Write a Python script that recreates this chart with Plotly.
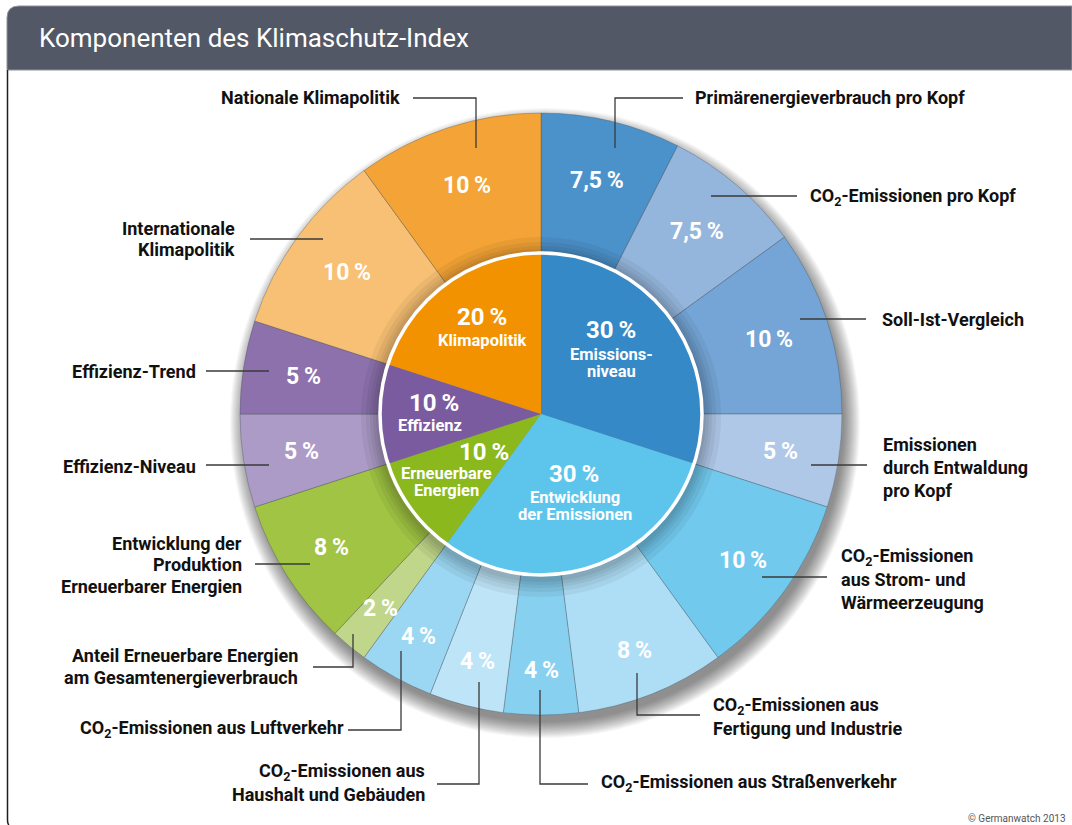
import math
import plotly.graph_objects as go

# ---------------- data ----------------
inner_labels = ["Emissionsniveau", "Entwicklung der Emissionen", "Erneuerbare Energien",
                "Effizienz", "Klimapolitik"]
inner_display = ["Emissions-\nniveau", "Entwicklung\nder Emissionen", "Erneuerbare\nEnergien",
                 "Effizienz", "Klimapolitik"]
inner_values = [30, 30, 10, 10, 20]
inner_colors = ["#3589c6", "#5dc5ec", "#8ab81d", "#7b5ba0", "#f29200"]

outer_labels = [
    "Primärenergieverbrauch pro Kopf",
    "CO<sub>2</sub>-Emissionen pro Kopf",
    "Soll-Ist-Vergleich",
    "Emissionen\ndurch Entwaldung\npro Kopf",
    "CO<sub>2</sub>-Emissionen\naus Strom- und\nWärmeerzeugung",
    "CO<sub>2</sub>-Emissionen aus\nFertigung und Industrie",
    "CO<sub>2</sub>-Emissionen aus Straßenverkehr",
    "CO<sub>2</sub>-Emissionen aus\nHaushalt und Gebäuden",
    "CO<sub>2</sub>-Emissionen aus Luftverkehr",
    "Anteil Erneuerbare Energien\nam Gesamtenergieverbrauch",
    "Entwicklung der\nProduktion\nErneuerbarer Energien",
    "Effizienz-Niveau",
    "Effizienz-Trend",
    "Internationale\nKlimapolitik",
    "Nationale Klimapolitik",
]
outer_values = [7.5, 7.5, 10, 5, 10, 8, 4, 4, 4, 2, 8, 5, 5, 10, 10]
outer_colors = ["#4c92ca", "#94b6dc", "#74a5d6", "#afc8e8", "#72c9ee", "#aedef5", "#88d0f0",
                "#bee4f7", "#9bd6f2", "#c0d68a", "#a1c444", "#ac9bc7", "#8c71ad", "#f8c074",
                "#f4a436"]

title = "Komponenten des Klimaschutz-Index"
credit = "© Germanwatch 2013"

# ---------------- layout constants (pixels) ----------------
W, H = 1072, 825
CX, CY = 541, 414
R_OUT, R_IN = 301, 161
FONT = "Roboto, 'Open Sans', sans-serif"

# callout geometry: side, text x, line y centres, leader polyline
callouts = [
    ("left", 693, [98], [(683, 98), (615, 98), (615, 148)]),
    ("left", 808, [197], [(711, 196), (797, 196)]),
    ("left", 880, [319], [(800, 319), (866, 319)]),
    ("left", 881, [444, 467, 490], [(811, 465), (867, 465)]),
    ("left", 839, [557, 579, 602], [(762, 577), (827, 577)]),
    ("left", 711, [706, 728], [(637, 673), (637, 715), (700, 715)]),
    ("left", 599, [783], [(540, 690), (540, 784), (588, 784)]),
    ("right", 427, [772, 794], [(479, 682), (479, 784), (437, 784)]),
    ("right", 346, [729], [(401, 651), (401, 730), (348, 730)]),
    ("right", 300, [655, 677], [(353, 634), (353, 667), (313, 667)]),
    ("right", 244, [543, 564, 586], [(255, 564), (310, 564)]),
    ("right", 198, [466], [(206, 465), (269, 465)]),
    ("right", 198, [371], [(206, 371), (269, 371)]),
    ("right", 237, [228, 250], [(250, 239), (323, 239)]),
    ("right", 402, [98], [(413, 98), (476, 98), (476, 148)]),
]
# inner labels: percent centre (x, y), name centre x, first name line y
inner_pos = [
    ((611, 330), 611, 354),
    ((574, 474), 575, 497),
    ((484, 452), 446, 473),
    ((434, 403), 430, 425),
    ((482, 317), 482, 340),
]
NAME_STEP = 17


def px(x):
    return x / W


def py(y):
    return 1 - y / H


def pct(v):
    return (f"{v:g}").replace(".", ",") + "\u2009%"


def circle_path(cx, cy, r, n=160, rev=False):
    pts = []
    for i in range(n):
        a = 2 * math.pi * i / n
        if rev:
            a = -a
        pts.append((cx + r * math.cos(a), cy + r * math.sin(a)))
    return "M" + " L".join(f"{px(x):.5f},{py(y):.5f}" for x, y in pts) + " Z"


fig = go.Figure()

fig.add_trace(go.Pie(
    labels=[l.replace("<sub>2</sub>", "₂").replace("\n", " ") for l in outer_labels],
    values=outer_values,
    marker=dict(colors=outer_colors, line=dict(color="rgba(60,70,80,0.45)", width=0.7)),
    sort=False, direction="clockwise", rotation=0, hole=R_IN / R_OUT,
    textinfo="none", hoverinfo="label+percent", showlegend=False,
    domain=dict(x=[px(CX - R_OUT), px(CX + R_OUT)], y=[py(CY + R_OUT), py(CY - R_OUT)]),
))
fig.add_trace(go.Pie(
    labels=inner_labels, values=inner_values,
    marker=dict(colors=inner_colors, line=dict(width=0)),
    sort=False, direction="clockwise", rotation=0,
    textinfo="none", hoverinfo="label+percent", showlegend=False,
    domain=dict(x=[px(CX - R_IN), px(CX + R_IN)], y=[py(CY + R_IN), py(CY - R_IN)]),
))

shapes = []
# drop shadow of the outer disc (offset down-right)
for k in range(-2, 15):
    r = R_OUT + k
    shapes.append(dict(type="circle", xref="paper", yref="paper", layer="below",
                       x0=px(CX + 4 - r), x1=px(CX + 4 + r), y0=py(CY + 9 + r), y1=py(CY + 9 - r),
                       fillcolor="rgba(0,0,0,0.03)", line=dict(width=0)))
# shadow of inner disc onto ring
for r in [165, 168, 171, 175, 180]:
    shapes.append(dict(type="path", xref="paper", yref="paper", layer="above",
                       path=circle_path(CX, CY + 3, r) + " " + circle_path(CX, CY, R_IN, rev=True),
                       fillrule="evenodd", fillcolor="rgba(0,0,0,0.05)", line=dict(width=0)))
# white rim of inner disc
shapes.append(dict(type="circle", xref="paper", yref="paper", layer="above",
                   x0=px(CX - R_IN), x1=px(CX + R_IN), y0=py(CY + R_IN), y1=py(CY - R_IN),
                   fillcolor="rgba(0,0,0,0)", line=dict(color="white", width=3.5)))

# title bar
bar = (f"M{px(7)},{py(70)} L{px(7)},{py(18)} Q{px(7)},{py(6)} {px(19)},{py(6)} "
       f"L{px(1072)},{py(6)} L{px(1072)},{py(70)} Z")
shapes.append(dict(type="path", xref="paper", yref="paper", layer="above", path=bar,
                   fillcolor="#525866", line=dict(color="#8e929b", width=1)))
# frame left line
shapes.append(dict(type="path", xref="paper", yref="paper", layer="above",
                   path=f"M{px(7.5)},{py(70)} L{px(7.5)},{py(820)} Q{px(7.5)},{py(824)} {px(9)},{py(825)}",
                   line=dict(color="#1e1e1e", width=1.5)))

# leader lines
for side, tx, ys, pts in callouts:
    p = "M" + " L".join(f"{px(x)},{py(y)}" for x, y in pts)
    shapes.append(dict(type="path", xref="paper", yref="paper", layer="above", path=p,
                       line=dict(color="#3a3a3a", width=1.3)))


def ann(x, y, text, size, color, xanchor="center", weight_bold=True):
    return dict(x=px(x), y=py(y), xref="paper", yref="paper",
                text=f"<b>{text}</b>" if weight_bold else text, showarrow=False,
                xanchor=xanchor, yanchor="middle",
                font=dict(family=FONT, size=size, color=color))


annotations = [
    ann(37, 38, title, 26, "white", "left", False),
    ann(1068, 818, credit, 10, "#555555", "right", False),
]

# outer callout texts
for (side, tx, ys, pts), lab in zip(callouts, outer_labels):
    for line, y in zip(lab.split("\n"), ys):
        annotations.append(ann(tx, y, line, 18, "#111111", "left" if side == "left" else "right"))

# percentages on outer ring (positioned from the slice angles)
cum = 0.0
tot = sum(outer_values)
for v in outer_values:
    th = math.radians((cum + v / 2) / tot * 360)
    cum += v
    r = 240 + 16 * max(0.0, -math.cos(th))
    annotations.append(ann(CX + r * math.sin(th), CY - r * math.cos(th), pct(v), 23, "white"))

# inner labels
for v, name, ((pxx, pyy), nx, ny) in zip(inner_values, inner_display, inner_pos):
    annotations.append(ann(pxx, pyy, pct(v), 24, "white"))
    for i, ln in enumerate(name.split("\n")):
        annotations.append(ann(nx, ny + NAME_STEP * i, ln, 16.5, "white"))

fig.update_layout(
    width=W, height=H, margin=dict(l=0, r=0, t=0, b=0, pad=0),
    paper_bgcolor="white", plot_bgcolor="white",
    shapes=shapes, annotations=annotations, showlegend=False,
    font=dict(family=FONT),
)

fig.write_html("out.html", config={"displayModeBar": False},
               post_script="document.body.style.margin='0';")
